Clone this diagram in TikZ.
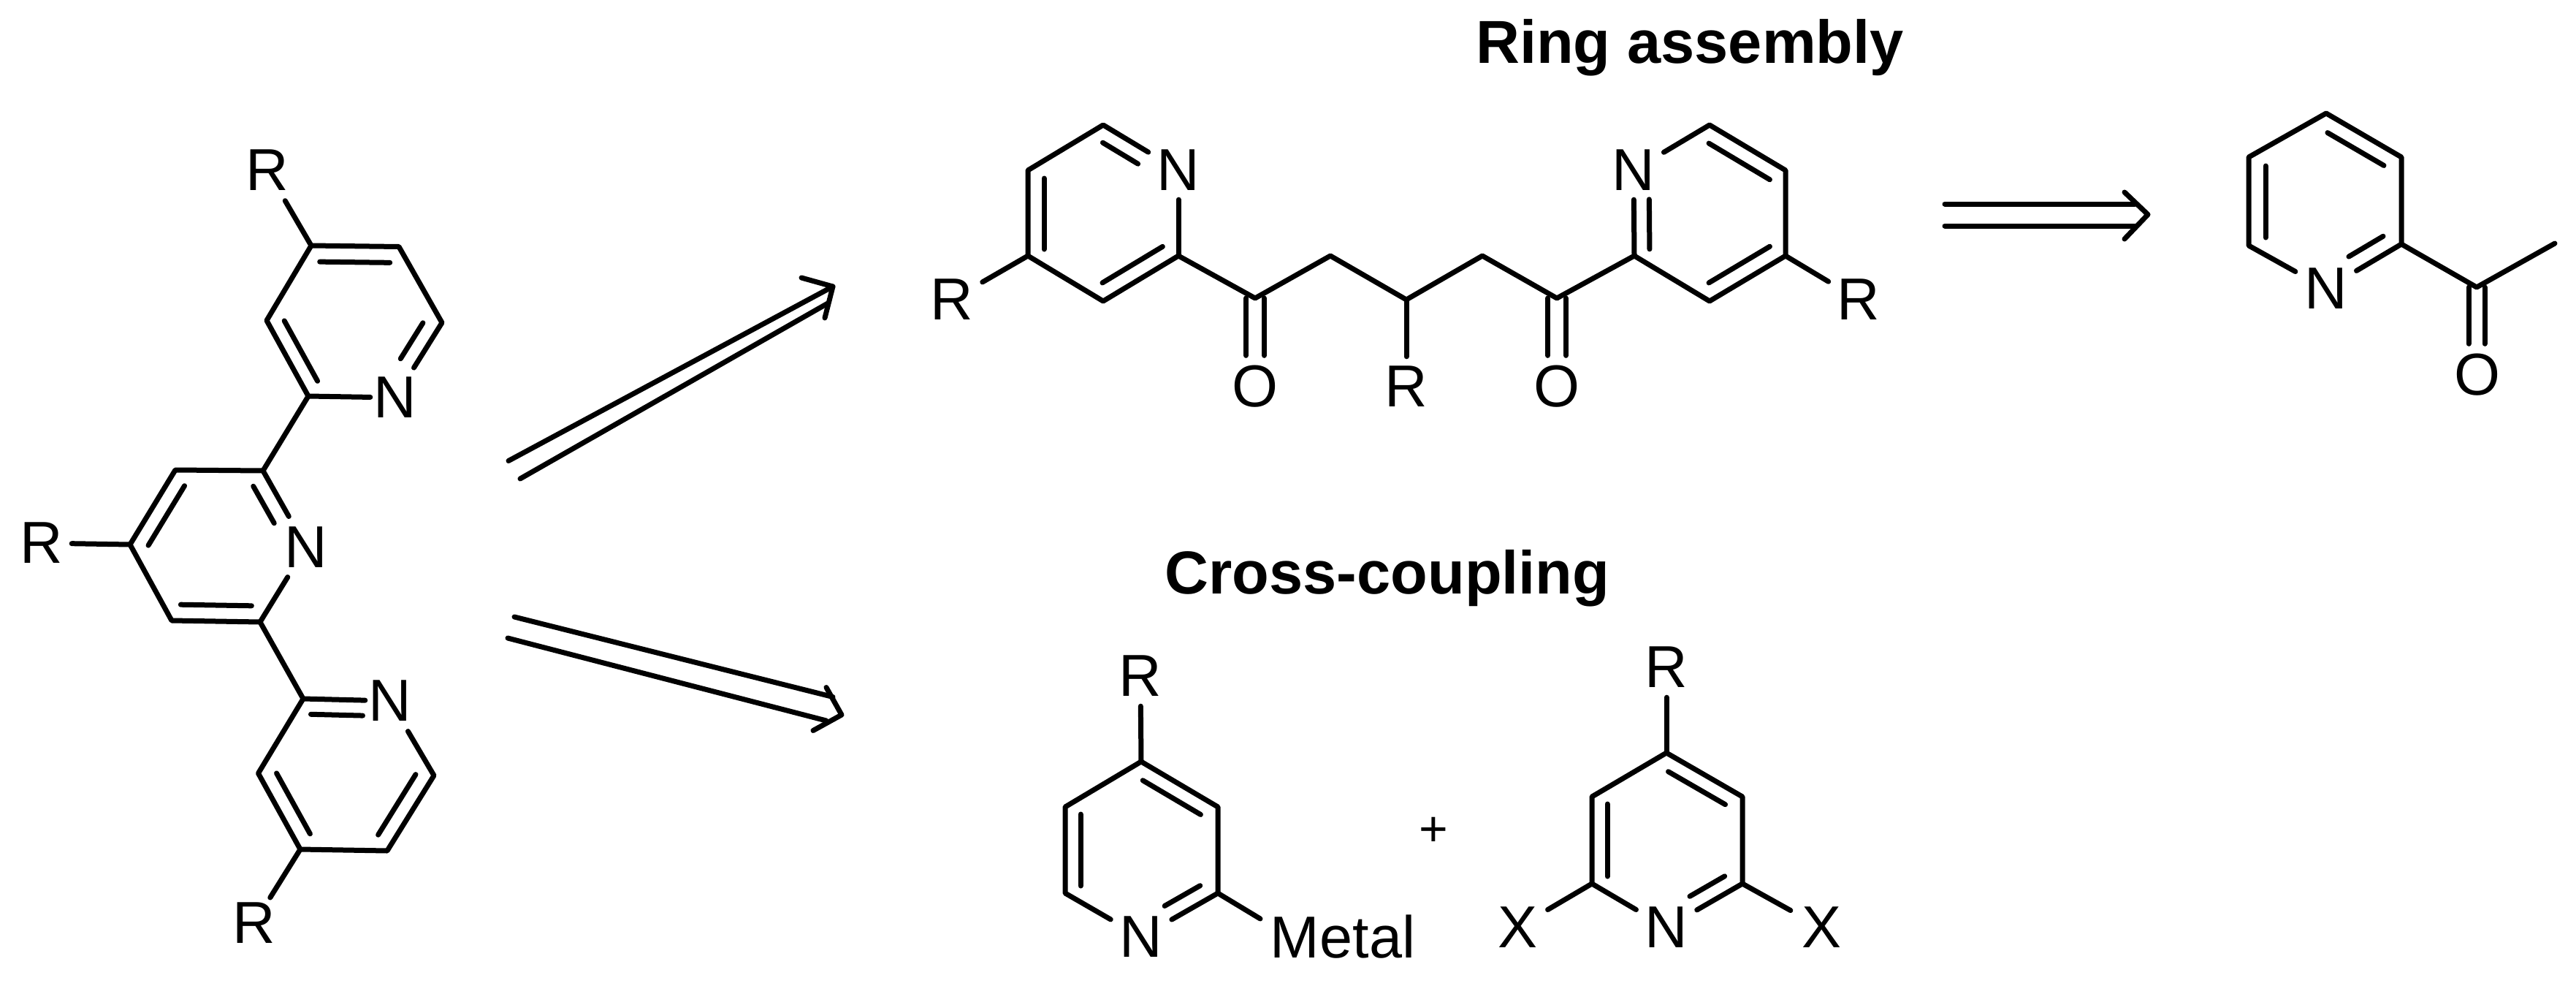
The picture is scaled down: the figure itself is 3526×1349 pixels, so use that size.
\documentclass[tikz,border=0pt]{standalone}
\usepackage{fontspec}
\setmainfont{Liberation Sans}
\usetikzlibrary{calc}
\tikzset{
  bond/.style={line width=7pt,line cap=round,line join=round},
  atom/.style={circle,inner sep=0pt,minimum size=96pt,font=\fontsize{81}{96}\selectfont},
  atomv/.style={atom,minimum size=82pt},
  metallabel/.style={inner sep=0pt,anchor=base,font=\fontsize{81}{96}\selectfont},
  titlelabel/.style={inner sep=0pt,anchor=base,font=\fontsize{83}{98}\selectfont\bfseries},
  plussign/.style={inner sep=0pt,font=\fontsize{68}{80}\selectfont},
}
% inner line of a double bond, on the left of the way a -> b
\newcommand{\ib}[5]{\draw[bond] ($(#1)!#4pt!(#2)!#3pt!90:(#2)$) -- ($(#2)!#5pt!(#1)!#3pt!-90:(#1)$);}
\begin{document}
\begin{tikzpicture}[x=1pt,y=-1pt]
\useasboundingbox (0,0) rectangle (3526,1349);
% ---------- terpyridine
\node[atom] (Ra) at (366,233) {R};
\coordinate (a1) at (426,336);
\coordinate (a6) at (365,438.5);
\coordinate (a2) at (422,542);
\node[atom] (Na) at (541,544) {N};
\coordinate (a4) at (605,441.5);
\coordinate (a5) at (546,337.5);
\draw[bond] (a2)--(a6)--(a1)--(a5)--(a4)--(Na);
\draw[bond,shorten >=-14pt] (a2)--(Na);
\draw[bond] (a1)--(Ra);
\ib{a6}{a2}{21}{12}{12}
\ib{a5}{a1}{22}{12}{12}
\ib{Na}{a4}{22}{49}{14}
\coordinate (m1) at (360,644);
\coordinate (m2) at (240,643);
\coordinate (m3) at (178,745);
\coordinate (m4) at (235,849);
\coordinate (m5) at (356,851);
\node[atom] (Nm) at (419,748.5) {N};
\node[atomv] (Rm) at (57,743) {R};
\draw[bond] (Nm)--(m1)--(m2)--(m3)--(m4)--(m5)--(Nm);
\draw[bond] (m3)--(Rm);
\draw[bond] (a2)--(m1);
\ib{m2}{m3}{22}{12}{12}
\ib{m4}{m5}{22}{12}{12}
\ib{Nm}{m1}{22}{50}{12}
\coordinate (b1) at (415,956);
\coordinate (b6) at (353.5,1058);
\coordinate (b5) at (411,1162);
\coordinate (b4) at (530,1164);
\coordinate (b3) at (594,1061);
\node[atom] (Nb) at (534,959) {N};
\node[atomv] (Rb) at (348,1263) {R};
\draw[bond] (Nb)--(b3)--(b4)--(b5)--(b6)--(b1);
\draw[bond,shorten >=-14pt] (b1)--(Nb);
\draw[bond] (b5)--(Rb);
\draw[bond] (m5)--(b1);
\ib{b6}{b5}{22}{12}{12}
\ib{b4}{b3}{22}{12}{12}
\ib{Nb}{b1}{21}{37}{11}
% ---------- retro arrows
\coordinate (ua1) at (696,630.5);
\coordinate (ua2) at (1140,392);
\coordinate (ub1) at (712,655);
\coordinate (ub2) at (1133,415);
\coordinate (uh1) at (1097,380);
\coordinate (uh2) at (1129,435);
\draw[bond] (ua1)--(ua2);
\draw[bond] (ub1)--(ub2);
\draw[bond] (uh1)--(ua2)--(uh2);
\coordinate (la1) at (704,844);
\coordinate (la2) at (1140,953.5);
\coordinate (lb1) at (695,873);
\coordinate (lb2) at (1131,986);
\coordinate (lt) at (1152,978);
\coordinate (lh1) at (1131,940.5);
\coordinate (lh2) at (1113,999.5);
\draw[bond] (la1)--(la2);
\draw[bond] (lb1)--(lb2);
\draw[bond] (lh1)--(lt)--(lh2);
\coordinate (ra1) at (2662,279);
\coordinate (ra2) at (2922,279);
\coordinate (rb1) at (2662,309);
\coordinate (rb2) at (2922,309);
\coordinate (rt) at (2940,293.5);
\coordinate (rh1) at (2908,263);
\coordinate (rh2) at (2908,327);
\draw[bond] (ra1)--(ra2);
\draw[bond] (rb1)--(rb2);
\draw[bond] (rh1)--(rt)--(rh2);
% ---------- titles
\node[titlelabel] (t1) at (2313,86) {Ring assembly};
\node[titlelabel] (t2) at (1899,812) {Cross-coupling};
% ---------- diketone
\coordinate (c1) at (1510,171);
\coordinate (c2) at (1407,233);
\coordinate (c3) at (1407,350);
\coordinate (c4) at (1510,412);
\coordinate (c5) at (1613,350);
\node[atom] (Nc) at (1613,233) {N};
\node[atom] (Rc) at (1303,410) {R};
\coordinate (k1) at (1718,408);
\coordinate (k2) at (1821,350);
\coordinate (k3) at (1925,410);
\coordinate (k4) at (2029,350);
\coordinate (k5) at (2131,408);
\node[atomv] (O1) at (1718,529) {O};
\node[atomv] (Rk) at (1925,529) {R};
\node[atomv] (O2) at (2131,529) {O};
\coordinate (d1) at (2340,171);
\node[atom] (Nd) at (2236,233) {N};
\coordinate (d3) at (2237,350);
\coordinate (d4) at (2340,412);
\coordinate (d5) at (2444,350);
\coordinate (d6) at (2444,233);
\node[atom] (Rd) at (2544,410) {R};
\draw[bond] (Nc)--(c1)--(c2)--(c3)--(c4)--(c5)--(k1)--(k2)--(k3)--(k4)--(k5)--(d3)--(d4)--(d5)--(d6)--(d1)--(Nd);
\draw[bond,shorten <=-8pt] (Nc)--(c5);
\draw[bond,shorten <=-8pt] (Nd)--(d3);
\draw[bond] (c3)--(Rc);
\draw[bond] (d5)--(Rd);
\draw[bond] (k3)--(Rk);
\draw[bond] ([xshift=-12.5pt]k1)--([xshift=-12.5pt]k1|-O1.north);
\draw[bond] ([xshift=12.5pt]k1)--([xshift=12.5pt]k1|-O1.north);
\draw[bond] ([xshift=-12.5pt]k5)--([xshift=-12.5pt]k5|-O2.north);
\draw[bond] ([xshift=12.5pt]k5)--([xshift=12.5pt]k5|-O2.north);
\ib{c2}{c3}{22}{11}{9}
\ib{c4}{c5}{22}{12}{12}
\ib{Nc}{c1}{21}{52}{12}
\ib{Nd}{d3}{21}{40}{9}
\ib{d4}{d5}{22}{12}{12}
\ib{d6}{d1}{22}{12}{12}
% ---------- acetylpyridine
\coordinate (e1) at (3184,155);
\coordinate (e2) at (3078,215);
\coordinate (e3) at (3078,336);
\node[atom] (Ne) at (3184,395) {N};
\coordinate (e5) at (3287,334);
\coordinate (e6) at (3287,215);
\coordinate (f1) at (3390,393);
\coordinate (f2) at (3497,333);
\node[atomv] (O3) at (3391,513) {O};
\draw[bond] (Ne)--(e3)--(e2)--(e1)--(e6)--(e5)--(Ne);
\draw[bond] (e5)--(f1)--(f2);
\draw[bond] ([xshift=-11pt]f1)--([xshift=-11pt]f1|-O3.north);
\draw[bond] ([xshift=11pt]f1)--([xshift=11pt]f1|-O3.north);
\ib{e2}{e3}{23}{12}{11}
\ib{e6}{e1}{22}{15}{15}
\ib{Ne}{e5}{22}{49}{16}
% ---------- metal pyridine
\node[atomv] (Rg) at (1561,925) {R};
\coordinate (g1) at (1562,1042);
\coordinate (g2) at (1458,1104);
\coordinate (g3) at (1458,1222);
\node[atom] (Ng) at (1562,1282) {N};
\coordinate (g5) at (1667,1222);
\coordinate (g6) at (1667,1104);
\node[metallabel] (Mt) at (1838,1310) {Metal};
\coordinate (mtend) at (1725,1257);
\draw[bond] (Ng)--(g3)--(g2)--(g1)--(g6)--(g5)--(Ng);
\draw[bond] (g1)--(Rg);
\draw[bond] (g5)--(mtend);
\ib{g2}{g3}{21}{10}{10}
\ib{g6}{g1}{21}{15}{15}
\ib{Ng}{g5}{21}{49}{16}
\node[plussign] (pl) at (1962,1138) {+};
% ---------- dihalopyridine
\node[atomv] (Rh) at (2281,913) {R};
\coordinate (h1) at (2281,1030);
\coordinate (h2) at (2179,1090);
\coordinate (h3) at (2179,1209);
\node[atom] (Nh) at (2281,1269) {N};
\coordinate (h5) at (2385,1209);
\coordinate (h6) at (2385,1090);
\node[atom] (Xl) at (2077,1269) {X};
\node[atom] (Xr) at (2493,1269) {X};
\draw[bond] (Nh)--(h3)--(h2)--(h1)--(h6)--(h5)--(Nh);
\draw[bond] (h1)--(Rh);
\draw[bond] (h3)--(Xl);
\draw[bond] (h5)--(Xr);
\ib{h2}{h3}{21}{10}{10}
\ib{h6}{h1}{21}{15}{15}
\ib{Nh}{h5}{21}{49}{16}
\end{tikzpicture}
\end{document}
